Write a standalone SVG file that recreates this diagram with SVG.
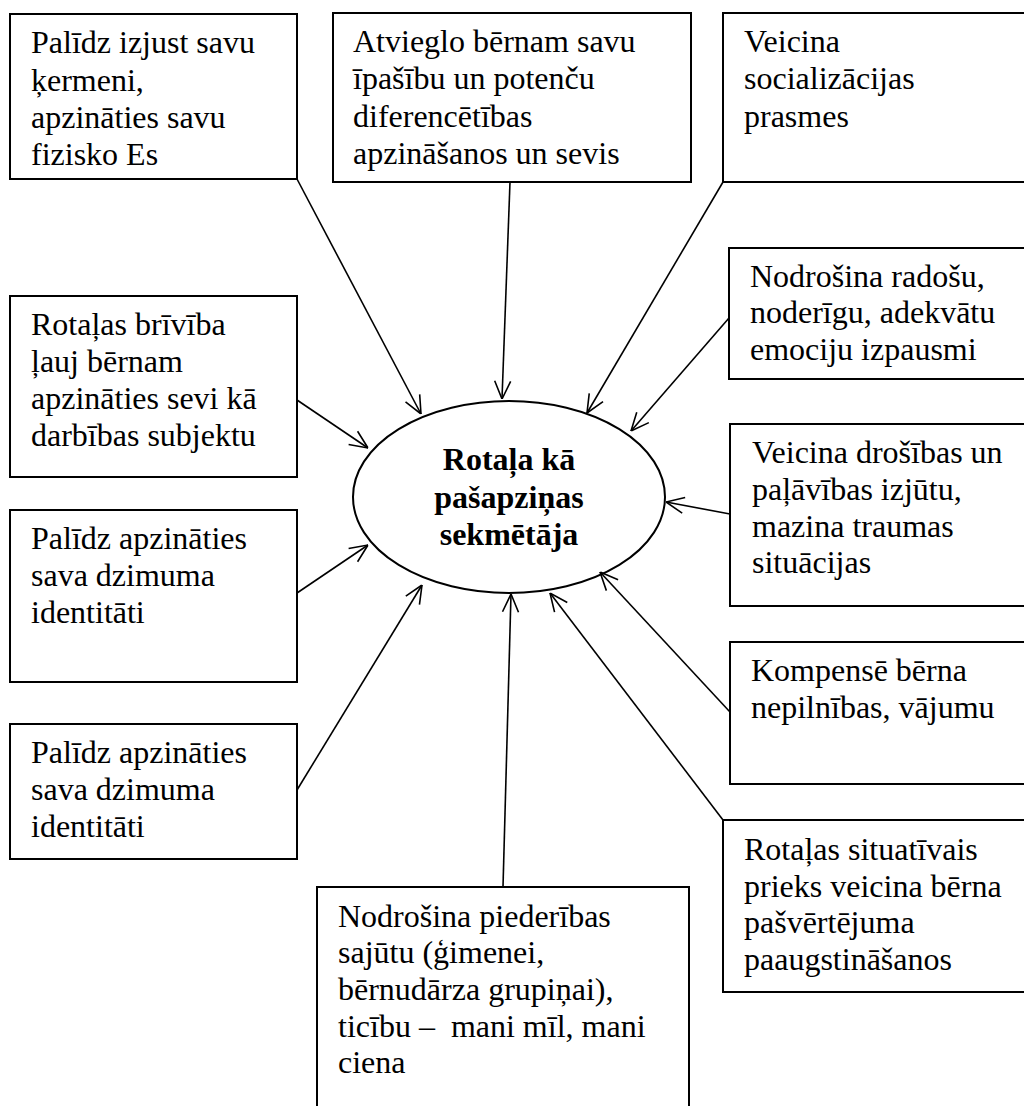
<svg xmlns="http://www.w3.org/2000/svg" width="1024" height="1106" viewBox="0 0 1024 1106">
<style>
.box{fill:#fff;stroke:#000;stroke-width:2}
.t{font-family:"Liberation Serif","Times New Roman",serif;font-size:32px;fill:#000}
.b{font-weight:bold;text-anchor:middle}
.c{stroke:#000;stroke-width:1.6;fill:none;marker-end:url(#arr)}
</style>
<defs>
<marker id="arr" viewBox="0 0 20 20" refX="20" refY="10" markerWidth="20" markerHeight="20" markerUnits="userSpaceOnUse" orient="auto">
<path d="M2,2 L20,10 L2,18" fill="none" stroke="#000" stroke-width="1.6"/>
</marker>
</defs>
<rect width="1024" height="1106" fill="#fff"/>
<g id="connectors">
<line class="c" x1="297" y1="179" x2="421" y2="414"/>
<line class="c" x1="510" y1="182" x2="502" y2="399"/>
<line class="c" x1="723" y1="182" x2="587" y2="413"/>
<line class="c" x1="729" y1="318" x2="631" y2="431"/>
<line class="c" x1="297" y1="400" x2="368" y2="448"/>
<line class="c" x1="297" y1="593" x2="368" y2="545"/>
<line class="c" x1="297" y1="790" x2="422" y2="585"/>
<line class="c" x1="503" y1="887" x2="511" y2="594"/>
<line class="c" x1="723" y1="820" x2="550" y2="593"/>
<line class="c" x1="730" y1="712" x2="600" y2="572"/>
<line class="c" x1="730" y1="514" x2="666" y2="502"/>
</g>
<g id="center">
<ellipse cx="509" cy="497" rx="156" ry="96" fill="none" stroke="#000" stroke-width="2"/>
<text class="t b" x="509"><tspan x="509" y="470">Rotaļa kā</tspan><tspan x="509" y="508">pašapziņas</tspan><tspan x="509" y="545">sekmētāja</tspan></text>
</g>
<g id="n1">
<rect class="box" x="10" y="14" width="287" height="165"/>
<text class="t"><tspan x="31" y="53">Palīdz izjust savu</tspan><tspan x="31" y="91">ķermeni,</tspan><tspan x="31" y="128">apzināties savu</tspan><tspan x="31" y="165">fizisko Es</tspan></text>
</g>
<g id="n2">
<rect class="box" x="333" y="13" width="358" height="169"/>
<text class="t"><tspan x="353" y="52">Atvieglo bērnam savu</tspan><tspan x="353" y="89">īpašību un potenču</tspan><tspan x="353" y="127">diferencētības</tspan><tspan x="353" y="164">apzināšanos un sevis</tspan></text>
</g>
<g id="n3">
<rect class="box" x="723" y="13" width="310" height="169"/>
<text class="t"><tspan x="744" y="52">Veicina</tspan><tspan x="744" y="89">socializācijas</tspan><tspan x="744" y="127">prasmes</tspan></text>
</g>
<g id="n4">
<rect class="box" x="729" y="248" width="304" height="131"/>
<text class="t"><tspan x="750" y="287">Nodrošina radošu,</tspan><tspan x="750" y="323">noderīgu, adekvātu</tspan><tspan x="750" y="360">emociju izpausmi</tspan></text>
</g>
<g id="n5">
<rect class="box" x="10" y="296" width="287" height="181"/>
<text class="t"><tspan x="31" y="335">Rotaļas brīvība</tspan><tspan x="31" y="372">ļauj bērnam</tspan><tspan x="31" y="409">apzināties sevi kā</tspan><tspan x="31" y="446">darbības subjektu</tspan></text>
</g>
<g id="n6">
<rect class="box" x="10" y="510" width="287" height="172"/>
<text class="t"><tspan x="31" y="549">Palīdz apzināties</tspan><tspan x="31" y="586">sava dzimuma</tspan><tspan x="31" y="623">identitāti</tspan></text>
</g>
<g id="n7">
<rect class="box" x="10" y="724" width="287" height="135"/>
<text class="t"><tspan x="31" y="763">Palīdz apzināties</tspan><tspan x="31" y="800">sava dzimuma</tspan><tspan x="31" y="837">identitāti</tspan></text>
</g>
<g id="n8">
<rect class="box" x="317" y="887" width="372" height="230"/>
<text class="t" style="white-space:pre"><tspan x="338" y="927">Nodrošina piederības</tspan><tspan x="338" y="963">sajūtu (ģimenei,</tspan><tspan x="338" y="1000">bērnudārza grupiņai),</tspan><tspan x="338" y="1037">ticību –  mani mīl, mani</tspan><tspan x="338" y="1073">ciena</tspan></text>
</g>
<g id="n9">
<rect class="box" x="730" y="424" width="303" height="182"/>
<text class="t"><tspan x="752" y="463">Veicina drošības un</tspan><tspan x="752" y="500">paļāvības izjūtu,</tspan><tspan x="752" y="537">mazina traumas</tspan><tspan x="752" y="573">situācijas</tspan></text>
</g>
<g id="n10">
<rect class="box" x="730" y="642" width="303" height="142"/>
<text class="t"><tspan x="751" y="681">Kompensē bērna</tspan><tspan x="751" y="718">nepilnības, vājumu</tspan></text>
</g>
<g id="n11">
<rect class="box" x="723" y="820" width="310" height="172"/>
<text class="t"><tspan x="744" y="860">Rotaļas situatīvais</tspan><tspan x="744" y="897">prieks veicina bērna</tspan><tspan x="744" y="933">pašvērtējuma</tspan><tspan x="744" y="970">paaugstināšanos</tspan></text>
</g>
</svg>
